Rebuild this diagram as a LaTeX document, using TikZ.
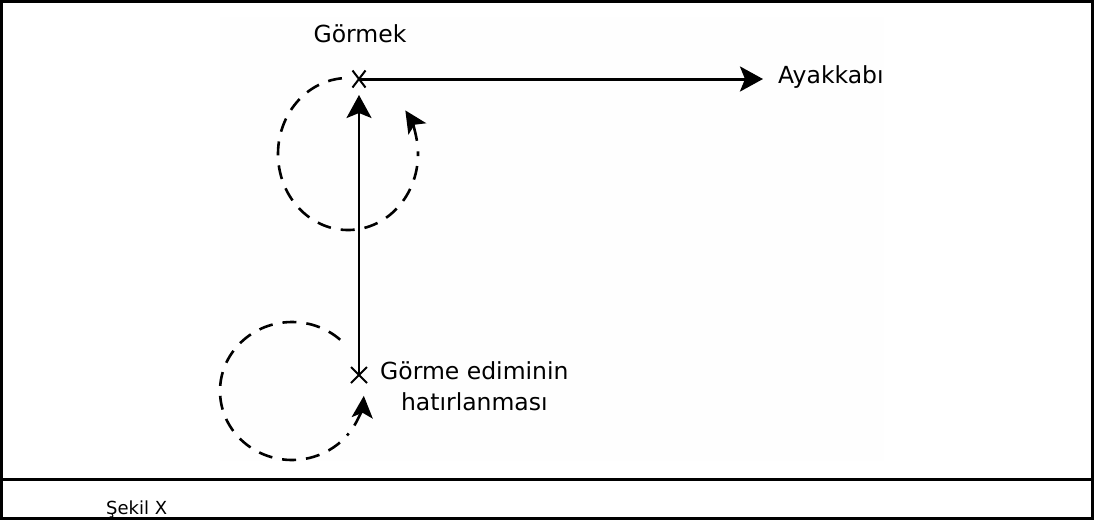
\documentclass[tikz,border=0pt]{standalone}
\usepackage{fontspec}
\setmainfont{DejaVu Sans}
\usetikzlibrary{arrows.meta,shapes.misc}
\definecolor{faint}{RGB}{254,254,254}
\tikzset{
  lbl/.style={inner sep=0pt, font=\fontsize{23.5}{31}\selectfont},
  mark x/.style={cross out, draw, inner sep=0pt, line width=2pt},
  mainarrow/.style={line width=2.6pt, -{Stealth[length=23pt,width=25pt,inset=5pt]}},
  loop/.style={line width=2.6pt, dash pattern=on 14pt off 10pt},
  looptip/.style={line width=2.6pt, solid, -{Stealth[length=22pt,width=21pt,inset=5pt]}}
}
\begin{document}
\begin{tikzpicture}[x=1pt,y=-1pt]
\useasboundingbox (0,0) rectangle (1094,520);
\fill[faint] (220,17) rectangle (884,461);
\draw[line width=3pt] (1.5,1.5) rectangle (1092.5,518.5);
\draw[line width=3pt] (0,479) -- (1094,479);
% markers
\node[mark x, minimum width=11pt, minimum height=15pt] (g) at (359,79) {};
\node[mark x, minimum width=14pt, minimum height=14pt] (r) at (359,375) {};
% labels
\node[lbl, anchor=base] (gl) at (360,42) {Görmek};
\node[lbl, anchor=base west] (a) at (778,83) {Ayakkabı};
\node[lbl, anchor=north west, align=center] (rl) at (380,361) {Görme ediminin\\hatırlanması};
\node[inner sep=0pt, anchor=base west, font=\fontsize{18}{22}\selectfont] (cap) at (106,514) {Şekil X};
% connectors
\draw[mainarrow, line width=3pt, shorten >=15pt] (g.center) -- (g.center -| a.west);
\draw[mainarrow, shorten >=16pt] (r.center) -- (g.center);
% dashed loops
\draw[loop] (348,154) ++(-95:70 and 76) arc[start angle=-95, end angle=-362, x radius=70, y radius=76];
\draw[looptip] (348,154) ++(-370:70 and 76) arc[start angle=-370, end angle=-395, x radius=70, y radius=76];
\draw[loop] (292,391) ++(-48:72 and 69) arc[start angle=-48, end angle=-322, x radius=72, y radius=69];
\draw[looptip] (292,391) ++(-330:72 and 69) arc[start angle=-330, end angle=-356, x radius=72, y radius=69];
\end{tikzpicture}
\end{document}
